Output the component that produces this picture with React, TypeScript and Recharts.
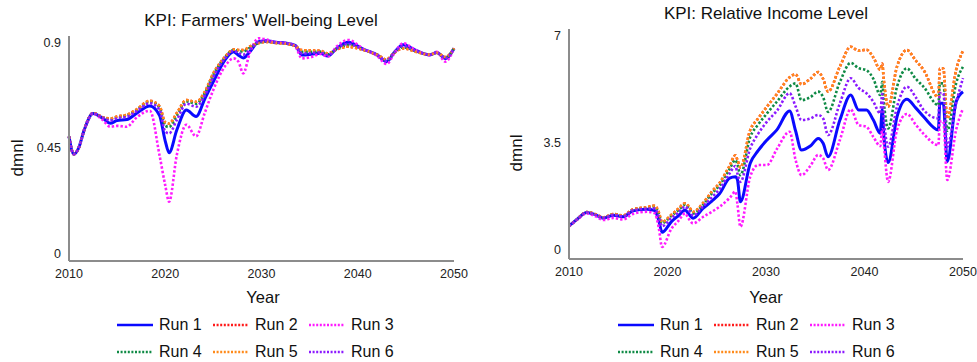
import { LineChart, Line, XAxis, YAxis } from "recharts";

// Sampled simulation years (irregular, denser around sharp turns).
const WELLBEING_YEARS = [
  2010, 2010.5, 2011, 2011.6, 2012.5, 2013.5, 2014.3, 2015, 2016, 2017, 2018.4,
  2019.4, 2020, 2020.4, 2021.2, 2022.2, 2023.2, 2024.1, 2025, 2026.2, 2027.1,
  2027.6, 2028.1, 2028.8, 2029.7, 2030.5, 2031.5, 2032.5, 2033.5, 2034.2,
  2035.2, 2036.1, 2036.9, 2037.8, 2039, 2040.6, 2042, 2043, 2043.8, 2044.7,
  2046.1, 2047.5, 2048.2, 2049.1, 2050,
];

const WELLBEING_RUN1 = [
  0.499, 0.424, 0.45, 0.53, 0.598, 0.578, 0.556, 0.568, 0.572, 0.598, 0.63,
  0.59, 0.48, 0.43, 0.527, 0.613, 0.585, 0.66, 0.735, 0.827, 0.863,
  0.848, 0.836, 0.863, 0.906, 0.91, 0.903, 0.9, 0.89, 0.849,
  0.852, 0.856, 0.844, 0.877, 0.903, 0.873, 0.849, 0.82, 0.86, 0.892,
  0.867, 0.849, 0.859, 0.834, 0.877,
];
const WELLBEING_RUN3 = [
  0.499, 0.424, 0.45, 0.53, 0.598, 0.57, 0.541, 0.545, 0.541, 0.58, 0.61,
  0.42, 0.29, 0.22, 0.42, 0.55, 0.5, 0.6, 0.7, 0.8, 0.834,
  0.82, 0.77, 0.86, 0.92, 0.915, 0.903, 0.9, 0.885, 0.834,
  0.84, 0.853, 0.842, 0.885, 0.913, 0.875, 0.845, 0.81, 0.855, 0.899,
  0.868, 0.848, 0.862, 0.82, 0.877,
];
const WELLBEING_RUN4 = [
  0.499, 0.424, 0.45, 0.53, 0.6, 0.581, 0.574, 0.582, 0.589, 0.612, 0.648,
  0.625, 0.545, 0.54, 0.59, 0.65, 0.64, 0.685, 0.765, 0.838, 0.87,
  0.866, 0.864, 0.88, 0.9, 0.906, 0.901, 0.898, 0.888, 0.862,
  0.862, 0.863, 0.852, 0.874, 0.89, 0.871, 0.85, 0.827, 0.859, 0.882,
  0.864, 0.85, 0.858, 0.838, 0.877,
];
const WELLBEING_RUN5 = [
  0.499, 0.424, 0.45, 0.53, 0.6, 0.582, 0.577, 0.585, 0.592, 0.615, 0.652,
  0.63, 0.56, 0.555, 0.6, 0.656, 0.648, 0.69, 0.77, 0.84, 0.872,
  0.87, 0.87, 0.885, 0.9, 0.905, 0.9, 0.897, 0.887, 0.87,
  0.868, 0.867, 0.855, 0.872, 0.884, 0.87, 0.85, 0.83, 0.858, 0.877,
  0.862, 0.85, 0.858, 0.84, 0.877,
];
const WELLBEING_RUN6 = [
  0.499, 0.424, 0.45, 0.53, 0.599, 0.58, 0.568, 0.578, 0.584, 0.607, 0.642,
  0.615, 0.52, 0.513, 0.57, 0.64, 0.627, 0.675, 0.755, 0.834, 0.866,
  0.858, 0.85, 0.872, 0.905, 0.908, 0.902, 0.899, 0.889, 0.855,
  0.857, 0.86, 0.848, 0.876, 0.896, 0.872, 0.85, 0.824, 0.86, 0.887,
  0.865, 0.85, 0.859, 0.836, 0.877,
];
// Run 2 coincides with Run 5 and sits underneath it.
const WELLBEING_RUN2 = WELLBEING_RUN5;

const INCOME_YEARS = [
  2010, 2010.8, 2011.8, 2012.7, 2013.5, 2014.5, 2015.5, 2016.5, 2017.9, 2018.7,
  2019.1, 2019.45, 2020.4, 2021.1, 2021.8, 2022.1, 2022.6, 2023.6, 2024.5,
  2025.3, 2026.3, 2026.9, 2027.1, 2027.4, 2028.4, 2029.2, 2030.1, 2031.1,
  2032.4, 2033, 2033.6, 2034.5, 2035.3, 2035.8, 2036.3, 2037.5, 2038.6,
  2039.4, 2040.2, 2040.9, 2041.6, 2041.8, 2041.95, 2042.4, 2043.3, 2044.3,
  2045.2, 2046, 2047.5, 2047.65, 2048, 2048.4, 2049.3, 2050,
];

const INCOME_RUN1 = [
  0.78, 1.0, 1.23, 1.15, 1.04, 1.14, 1.09, 1.28, 1.33, 1.29,
  0.98, 0.58, 0.93, 1.12, 1.31, 1.2, 1.04, 1.36, 1.6,
  1.85, 2.35, 2.4, 2.3, 1.58, 2.84, 3.25, 3.6, 3.93,
  4.55, 3.9, 3.27, 3.4, 3.65, 3.49, 3.05, 4.25, 5.07,
  4.58, 4.58, 4.25, 3.82, 4.6, 3.8, 2.86, 4.36, 4.93,
  4.65, 4.36, 3.93, 4.8, 4.8, 2.89, 4.85, 5.18,
];
const INCOME_RUN3 = [
  0.78, 0.98, 1.2, 1.1, 0.98, 1.05, 1.0, 1.18, 1.25, 1.2,
  0.75, 0.1, 0.7, 0.95, 1.2, 1.05, 0.87, 1.08, 1.25,
  1.42, 1.7, 1.91, 1.5, 0.76, 2.4, 2.78, 2.78, 3.3,
  3.87, 2.95, 2.45, 2.75, 3.11, 3.0, 2.62, 3.6, 4.6,
  4.09, 4.03, 3.7, 3.4, 3.95, 3.5, 2.23, 3.93, 4.45,
  4.1, 3.8, 3.43, 4.2, 4.2, 2.29, 3.93, 4.63,
];
const INCOME_RUN4 = [
  0.78, 1.0, 1.24, 1.16, 1.06, 1.17, 1.12, 1.32, 1.38, 1.42,
  1.2, 0.88, 1.12, 1.3, 1.48, 1.4, 1.2, 1.48, 1.85,
  2.12, 2.65, 2.94, 2.8, 2.45, 3.7, 4.1, 4.47, 4.85,
  5.35, 5.45, 4.9, 5.0, 5.18, 5.0, 4.52, 5.5, 6.12,
  5.95, 5.88, 5.6, 5.07, 5.5, 4.9, 3.98, 5.34, 5.94,
  5.6, 5.34, 4.74, 5.45, 5.45, 3.9, 5.45, 6.0,
];
const INCOME_RUN5 = [
  0.78, 1.0, 1.24, 1.17, 1.07, 1.18, 1.13, 1.33, 1.4, 1.45,
  1.25, 0.92, 1.15, 1.35, 1.53, 1.45, 1.25, 1.53, 1.91,
  2.2, 2.75, 3.1, 2.95, 2.7, 3.93, 4.3, 4.69, 5.1,
  5.65, 5.75, 5.42, 5.6, 5.82, 5.6, 5.18, 6.0, 6.65,
  6.52, 6.55, 6.3, 5.9, 6.1, 5.6, 4.69, 6.0, 6.54,
  6.2, 5.89, 5.0, 5.94, 5.94, 4.3, 5.89, 6.52,
];
const INCOME_RUN6 = [
  0.78, 1.0, 1.23, 1.15, 1.05, 1.15, 1.1, 1.3, 1.35, 1.36,
  1.1, 0.78, 1.05, 1.22, 1.42, 1.33, 1.13, 1.42, 1.72,
  2.0, 2.5, 2.75, 2.5, 2.23, 3.33, 3.8, 4.2, 4.55,
  5.13, 4.7, 4.25, 4.3, 4.42, 4.3, 3.76, 4.8, 5.62,
  5.3, 5.13, 4.85, 4.47, 5.1, 4.4, 3.38, 4.69, 5.34,
  5.0, 4.58, 4.31, 5.13, 5.13, 3.38, 4.8, 5.62,
];
const INCOME_RUN2 = INCOME_RUN5;

const YEAR_TICKS = [2010, 2020, 2030, 2040, 2050];
const WELLBEING_TICKS = [0, 0.45, 0.9];
const INCOME_TICKS = [0, 3.5, 7];

const RUN_NAMES = ["Run 1", "Run 2", "Run 3", "Run 4", "Run 5", "Run 6"];
const RUN_COLORS = ["#0a0aff", "#ff1a1a", "#ff1aff", "#0f8a45", "#ff8a1a", "#8c1aff"];

const AXIS_GRAY = "#8c8c8c";
const FONT = "'Liberation Sans', Arial, Helvetica, sans-serif";

function buildRows(years: number[], runs: number[][]) {
  return years.map((year, i) => {
    const row: Record<string, number> = { year };
    runs.forEach((r, k) => {
      row[`r${k + 1}`] = r[i];
    });
    return row;
  });
}

const wellbeingRows = buildRows(WELLBEING_YEARS, [
  WELLBEING_RUN1, WELLBEING_RUN2, WELLBEING_RUN3, WELLBEING_RUN4, WELLBEING_RUN5, WELLBEING_RUN6,
]);
const incomeRows = buildRows(INCOME_YEARS, [
  INCOME_RUN1, INCOME_RUN2, INCOME_RUN3, INCOME_RUN4, INCOME_RUN5, INCOME_RUN6,
]);

function runLines() {
  return RUN_NAMES.map((name, k) => (
    <Line
      key={name}
      name={name}
      dataKey={`r${k + 1}`}
      type="monotone"
      stroke={RUN_COLORS[k]}
      strokeWidth={k === 0 ? 3 : 2.6}
      strokeDasharray={k === 0 ? undefined : "2.4 2"}
      dot={false}
      activeDot={false}
      isAnimationActive={false}
    />
  ));
}

function Legend({ x }: { x: number }) {
  // three columns, two rows
  const cols = [0, 96, 192];
  return (
    <>
      {RUN_NAMES.map((name, k) => {
        const left = x + cols[k % 3];
        const top = k < 3 ? 325 : 352;
        return (
          <div key={name} style={{ position: "absolute", left, top: top - 10, height: 20, display: "flex", alignItems: "center" }}>
            <svg width={36} height={6} style={{ display: "block" }}>
              <line
                x1={0}
                y1={3}
                x2={36}
                y2={3}
                stroke={RUN_COLORS[k]}
                strokeWidth={k === 0 ? 2.5 : 2.4}
                strokeDasharray={k === 0 ? undefined : "2 1.6"}
              />
            </svg>
            <span style={{ marginLeft: 6, fontSize: 16, color: "#111", lineHeight: "20px" }}>{name}</span>
          </div>
        );
      })}
    </>
  );
}

function Label({ text, cx, cy, size, rotate }: { text: string; cx: number; cy: number; size: number; rotate?: boolean }) {
  return (
    <div
      style={{
        position: "absolute",
        left: cx - 150,
        top: cy - 12,
        width: 300,
        height: 24,
        lineHeight: "24px",
        textAlign: "center",
        fontSize: size,
        color: "#111",
        transform: rotate ? "rotate(-90deg)" : undefined,
        whiteSpace: "nowrap",
      }}
    >
      {text}
    </div>
  );
}

export default function App() {
  const tick = { fontSize: 12.5, fill: "#222", fontFamily: FONT };
  return (
    <div style={{ position: "absolute", left: 0, top: 0, width: 977, height: 362, background: "#fff", fontFamily: FONT, overflow: "hidden" }}>
      <div style={{ position: "absolute", left: 0, top: 0 }}>
        <LineChart width={480} height={290} data={wellbeingRows} margin={{ top: 36, right: 26, bottom: 0, left: 0 }}>
          <XAxis
            dataKey="year"
            type="number"
            domain={[2010, 2050]}
            ticks={YEAR_TICKS}
            height={29}
            tickLine={false}
            axisLine={{ stroke: AXIS_GRAY, strokeWidth: 2 }}
            tick={tick}
            interval={0}
          />
          <YAxis
            type="number"
            domain={[-0.034, 0.93]}
            ticks={WELLBEING_TICKS}
            width={69}
            tickLine={false}
            axisLine={{ stroke: AXIS_GRAY, strokeWidth: 2 }}
            tick={tick}
            interval={0}
            allowDataOverflow
          />
          {runLines()}
        </LineChart>
      </div>
      <div style={{ position: "absolute", left: 490, top: 0 }}>
        <LineChart width={487} height={290} data={incomeRows} margin={{ top: 29, right: 14, bottom: 0, left: 0 }}>
          <XAxis
            dataKey="year"
            type="number"
            domain={[2010, 2050]}
            ticks={YEAR_TICKS}
            height={31}
            tickLine={false}
            axisLine={{ stroke: AXIS_GRAY, strokeWidth: 2 }}
            tick={tick}
            interval={0}
          />
          <YAxis
            type="number"
            domain={[-0.294, 7.23]}
            ticks={INCOME_TICKS}
            width={79}
            tickLine={false}
            axisLine={{ stroke: AXIS_GRAY, strokeWidth: 2 }}
            tick={tick}
            interval={0}
            allowDataOverflow
          />
          {runLines()}
        </LineChart>
      </div>

      <Label text="KPI: Farmers' Well-being Level" cx={261} cy={21} size={17} />
      <Label text="KPI: Relative Income Level" cx={766} cy={14} size={17} />
      <Label text="dmnl" cx={18} cy={158} size={17} rotate />
      <Label text="dmnl" cx={517} cy={153} size={17} rotate />
      <Label text="Year" cx={263} cy={297} size={16.5} />
      <Label text="Year" cx={766} cy={297} size={16.5} />

      <Legend x={117} />
      <Legend x={618} />
    </div>
  );
}
